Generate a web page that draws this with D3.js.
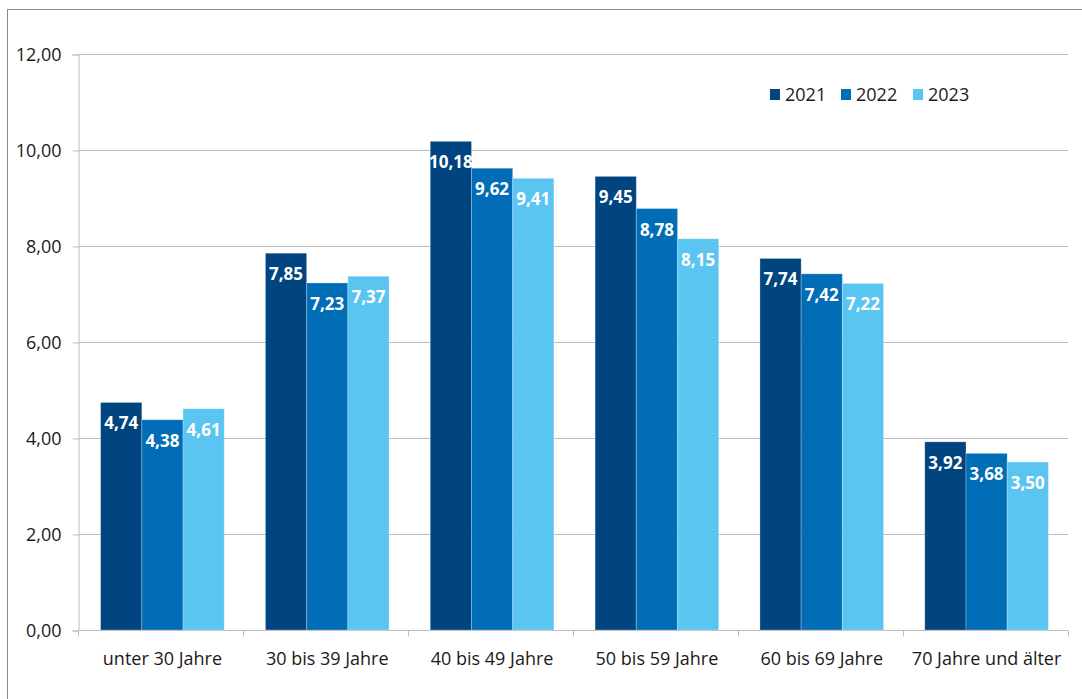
<!DOCTYPE html>
<html>
<head>
<meta charset="utf-8">
<script src="https://cdn.jsdelivr.net/npm/d3@7"></script>
<style>
    body { margin: 0; background: #fff; }
    svg { display: block; font-family: "Open Sans", sans-serif; }
</style>
</head>
<body>
<div id="chart"></div>
<script>
// Age groups and values per year
const categories = ["unter 30 Jahre", "30 bis 39 Jahre", "40 bis 49 Jahre", "50 bis 59 Jahre", "60 bis 69 Jahre", "70 Jahre und älter"];
const years = ["2021", "2022", "2023"];
const values2021 = [4.74, 7.85, 10.18, 9.45, 7.74, 3.92];
const values2022 = [4.38, 7.23, 9.62, 8.78, 7.42, 3.68];
const values2023 = [4.61, 7.37, 9.41, 8.15, 7.22, 3.50];
const yTicks = [0, 2, 4, 6, 8, 10, 12];
const colors = ["#00457f", "#006db6", "#5bc5f2"];

const series = [values2021, values2022, values2023];
const width = 1082, height = 699;
const margin = {top: 54, right: 13, bottom: 69, left: 80};

const svg = d3.select("#chart").append("svg")
    .attr("width", width)
    .attr("height", height);

// outer frame
svg.append("rect")
    .attr("x", 7.5).attr("y", 9.5)
    .attr("width", width).attr("height", height)
    .attr("fill", "none")
    .attr("stroke", "#8c8c8c");

const x0 = d3.scaleBand()
    .domain(categories)
    .range([margin.left, width - margin.right])
    .paddingInner(0.25)
    .paddingOuter(0.125);

const x1 = d3.scaleBand()
    .domain(years)
    .range([0, x0.bandwidth()]);

const y = d3.scaleLinear()
    .domain([0, 12])
    .range([height - margin.bottom, margin.top]);

const fmt = v => d3.format(".2f")(v).replace(".", ",");
const axisLeft = 78;

// gridlines
svg.append("g")
    .selectAll("line")
    .data(yTicks.filter(t => t > 0))
    .join("line")
    .attr("x1", axisLeft)
    .attr("x2", width - 14)
    .attr("y1", d => Math.round(y(d)) + 0.5)
    .attr("y2", d => Math.round(y(d)) + 0.5)
    .attr("stroke", "#bdbdbd");

// y axis
const yAxis = svg.append("g")
    .attr("transform", "translate(" + (axisLeft + 0.5) + ",0.5)")
    .call(d3.axisLeft(y).tickValues(yTicks).tickSize(6).tickPadding(11).tickFormat(fmt));
yAxis.selectAll("path, line").attr("stroke", "#bdbdbd");
yAxis.selectAll("text").attr("font-size", 18).attr("fill", "#1a1a1a").attr("font-family", "Open Sans");

// x axis with boundary ticks
const xg = svg.append("g")
    .attr("transform", "translate(0," + (y(0) + 0.5) + ")");
xg.append("line")
    .attr("x1", axisLeft).attr("x2", width - 14)
    .attr("stroke", "#bdbdbd");
const bounds = d3.range(categories.length + 1).map(i => axisLeft + i * (width - 14 - axisLeft) / categories.length);
xg.selectAll("line.tick")
    .data(bounds)
    .join("line")
    .attr("class", "tick")
    .attr("x1", d => Math.round(d) + 0.5).attr("x2", d => Math.round(d) + 0.5)
    .attr("y1", 0).attr("y2", 6)
    .attr("stroke", "#bdbdbd");
xg.selectAll("text")
    .data(categories)
    .join("text")
    .attr("x", d => x0(d) + x0.bandwidth() / 2)
    .attr("y", 34)
    .attr("text-anchor", "middle")
    .attr("font-size", 18)
    .attr("fill", "#1a1a1a")
    .text(d => d);

// bars
const groups = svg.append("g")
    .selectAll("g")
    .data(categories)
    .join("g")
    .attr("transform", d => "translate(" + x0(d) + ",0)");

const cells = groups.selectAll("g")
    .data((d, i) => years.map((yr, j) => ({year: yr, value: series[j][i], idx: j})))
    .join("g");

cells.append("rect")
    .attr("x", d => x1(d.year))
    .attr("y", d => y(d.value))
    .attr("width", x1.bandwidth())
    .attr("height", d => y(0) - y(d.value))
    .attr("fill", d => colors[d.idx])
    .attr("stroke", "rgba(255,255,255,0.25)")
    .attr("stroke-width", 1);

cells.append("text")
    .attr("x", d => x1(d.year) + x1.bandwidth() / 2)
    .attr("y", d => y(d.value) + 27)
    .attr("text-anchor", "middle")
    .attr("font-size", 17)
    .attr("font-weight", "bold")
    .attr("fill", "#fff")
    .text(d => fmt(d.value));

// legend
const legendX = [770, 841, 913];
const legend = svg.append("g")
    .selectAll("g")
    .data(years)
    .join("g")
    .attr("transform", (d, i) => "translate(" + legendX[i] + ",89)");
legend.append("rect")
    .attr("width", 10).attr("height", 11)
    .attr("fill", (d, i) => colors[i]);
legend.append("text")
    .attr("x", 15).attr("y", 12)
    .attr("font-size", 18)
    .attr("fill", "#1a1a1a")
    .text(d => d);
</script>
</body>
</html>
